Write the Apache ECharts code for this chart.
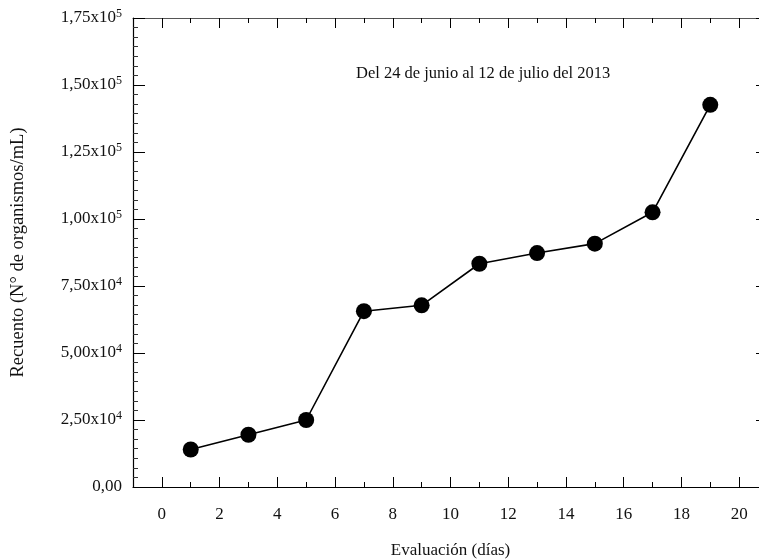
<!DOCTYPE html>
<html>
<head>
<meta charset="utf-8">
<script src="https://cdn.jsdelivr.net/npm/echarts@6/dist/echarts.min.js"></script>
<style>
html,body{margin:0;padding:0;background:#fff;}
#c{width:759px;height:559px;}
</style>
</head>
<body>
<div id="c"></div>
<script>
const days = [1, 3, 5, 7, 9, 11, 13, 15, 17, 19];
const counts = [14000, 19500, 25000, 65600, 67800, 83300, 87300, 90800, 102500, 142600];
const xMajorTicks = [0, 2, 4, 6, 8, 10, 12, 14, 16, 18, 20];
const xMinorTicks = [1, 3, 5, 7, 9, 11, 13, 15, 17, 19];
const yTickLabels = {
  0: ['0,00', ''],
  25000: ['2,50x10', '4'],
  50000: ['5,00x10', '4'],
  75000: ['7,50x10', '4'],
  100000: ['1,00x10', '5'],
  125000: ['1,25x10', '5'],
  150000: ['1,50x10', '5'],
  175000: ['1,75x10', '5']
};
const titleText = 'Del 24 de junio al 12 de julio del 2013';
const xName = 'Evaluación (días)';
const yName = 'Recuento (N° de organismos/mL)';

const FONT = '"Liberation Serif", "DejaVu Serif", serif';
const chart = echarts.init(document.getElementById('c'), null, {renderer: 'canvas'});
const X_MIN = -1, X_MAX = 21;

function yFmt(v) {
  const t = yTickLabels[v];
  if (!t) return '';
  return t[1] ? '{a|' + t[0] + '}{s|' + t[1] + '}' : '{a|' + t[0] + '}';
}

const option = {
  animation: false,
  backgroundColor: '#fff',
  grid: {left: 133, width: 635, top: 18, height: 469, containLabel: false, outerBoundsMode: 'none'},
  graphic: [{
    type: 'text', left: 356, top: 65,
    style: {text: titleText, font: '16.5px ' + FONT, fill: '#111'}
  }],
  xAxis: [
    {
      type: 'value', min: X_MIN, max: X_MAX, position: 'bottom',
      name: xName, nameLocation: 'middle', nameGap: 55,
      nameTextStyle: {fontFamily: FONT, fontSize: 17, color: '#111'},
      axisLine: {show: true, onZero: false, lineStyle: {color: '#000', width: 1.2}},
      axisTick: {show: true, inside: true, length: 10, customValues: xMajorTicks, lineStyle: {color: '#000'}},
      axisLabel: {show: true, customValues: xMajorTicks, margin: 19, fontFamily: FONT, fontSize: 17, color: '#111'},
      splitLine: {show: false}
    },
    {
      type: 'value', min: X_MIN, max: X_MAX, position: 'bottom',
      axisLine: {show: false, onZero: false},
      axisTick: {show: true, inside: true, length: 5, customValues: xMinorTicks, lineStyle: {color: '#000'}},
      axisLabel: {show: false},
      splitLine: {show: false}
    },
    {
      type: 'value', min: X_MIN, max: X_MAX, position: 'top',
      axisLine: {show: true, onZero: false, lineStyle: {color: '#555', width: 1.2}},
      axisTick: {show: true, inside: true, length: 10, customValues: xMajorTicks, lineStyle: {color: '#000'}},
      axisLabel: {show: false},
      splitLine: {show: false}
    },
    {
      type: 'value', min: X_MIN, max: X_MAX, position: 'top',
      axisLine: {show: false, onZero: false},
      axisTick: {show: true, inside: true, length: 5, customValues: xMinorTicks, lineStyle: {color: '#000'}},
      axisLabel: {show: false},
      splitLine: {show: false}
    }
  ],
  yAxis: [
    {
      type: 'value', min: 0, max: 175000, interval: 25000, position: 'left',
      name: yName, nameLocation: 'middle', nameGap: 105,
      nameTextStyle: {fontFamily: FONT, fontSize: 18.5, color: '#111'},
      axisLine: {show: true, onZero: false, lineStyle: {color: '#000', width: 1.2}},
      axisTick: {show: true, inside: true, length: 12, lineStyle: {color: '#000'}},
      minorTick: {show: true, splitNumber: 7, length: 5, lineStyle: {color: '#333'}},
      axisLabel: {
        margin: 11, formatter: yFmt,
        rich: {
          a: {fontFamily: FONT, fontSize: 17, color: '#111'},
          s: {fontFamily: FONT, fontSize: 12, color: '#111', padding: [0, 0, 8, 0]}
        }
      },
      splitLine: {show: false}, minorSplitLine: {show: false}
    },
    {
      type: 'value', min: 0, max: 175000, interval: 25000, position: 'right',
      axisLine: {show: true, onZero: false, lineStyle: {color: '#000', width: 1.2}},
      axisTick: {show: true, inside: true, length: 12, lineStyle: {color: '#000'}},
      minorTick: {show: true, splitNumber: 7, length: 5, lineStyle: {color: '#333'}},
      axisLabel: {show: false},
      splitLine: {show: false}
    }
  ],
  series: [{
    type: 'line', xAxisIndex: 0, yAxisIndex: 0,
    data: days.map((d, i) => [d, counts[i]]),
    symbol: 'circle', symbolSize: 16,
    itemStyle: {color: '#000'},
    lineStyle: {color: '#000', width: 1.6},
    z: 5
  }]
};
chart.setOption(option);
</script>
</body>
</html>
